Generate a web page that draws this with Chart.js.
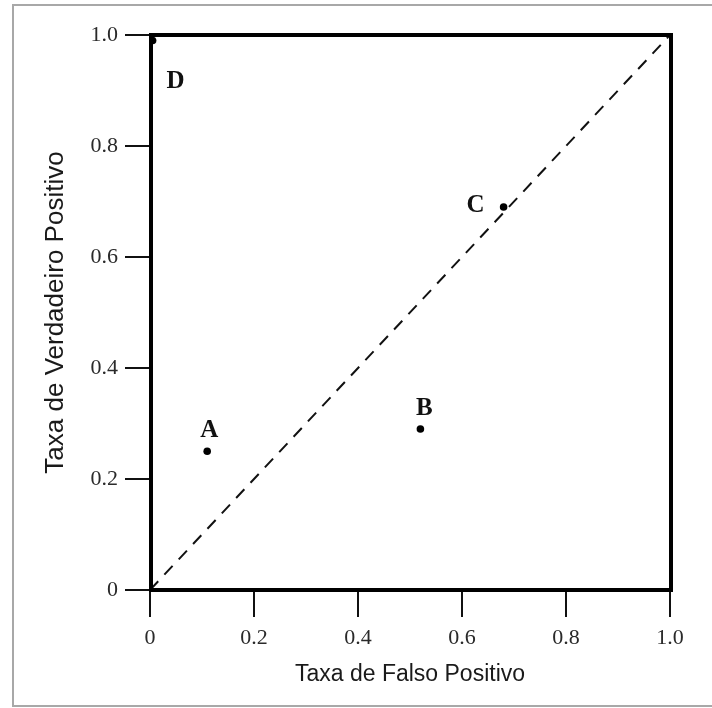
<!DOCTYPE html>
<html>
<head>
<meta charset="utf-8">
<script src="https://cdn.jsdelivr.net/npm/chart.js@4/dist/chart.umd.min.js"></script>
<style>
  html, body { margin: 0; padding: 0; background: #ffffff; }
  canvas { display: block; }
</style>
</head>
<body>
<canvas id="c" width="712" height="708"></canvas>
<script>
// ---- data ----
const pointNames = ['A', 'B', 'C', 'D'];
const fprValues = [0.11, 0.52, 0.68, 0.005];
const tprValues = [0.25, 0.29, 0.69, 0.99];
const diagonalX = [0, 1];
const diagonalY = [0, 1];
const xTickLabels = ['0', '0.2', '0.4', '0.6', '0.8', '1.0'];
const yTickLabels = ['0', '0.2', '0.4', '0.6', '0.8', '1.0'];
const xTitle = 'Taxa de Falso Positivo';
const yTitle = 'Taxa de Verdadeiro Positivo';

// label offsets (pixels, relative to each point) - styling only
const labelOffsets = { A: [2, -21], B: [4, -21], C: [-28, -2], D: [23, 41] };

const framePlugin = {
  id: 'frame',
  beforeDraw(chart) {
    const ctx = chart.ctx;
    ctx.save();
    ctx.fillStyle = '#ffffff';
    ctx.fillRect(0, 0, chart.width, chart.height);
    ctx.strokeStyle = '#a8a8a8';
    ctx.lineWidth = 2;
    ctx.strokeRect(13, 5, chart.width + 20, chart.height - 7);
    ctx.restore();
  }
};

const boxPlugin = {
  id: 'box',
  afterDatasetsDraw(chart) {
    const { ctx, chartArea: a } = chart;
    ctx.save();
    ctx.strokeStyle = '#000000';
    ctx.lineWidth = 4;
    ctx.strokeRect(a.left + 1, a.top, a.right - a.left, a.bottom - a.top);
    ctx.restore();
  }
};

const labelPlugin = {
  id: 'pointLabels',
  afterDatasetsDraw(chart) {
    const ctx = chart.ctx;
    const meta = chart.getDatasetMeta(1);
    ctx.save();
    ctx.font = 'bold 25px "Liberation Serif", "Times New Roman", serif';
    ctx.fillStyle = '#111111';
    ctx.textAlign = 'center';
    ctx.textBaseline = 'middle';
    meta.data.forEach((el, i) => {
      const name = pointNames[i];
      const off = labelOffsets[name];
      ctx.fillText(name, el.x + off[0], el.y + off[1]);
    });
    ctx.restore();
  }
};

const tickFont = { family: '"Liberation Serif", "Times New Roman", serif', size: 22 };

new Chart(document.getElementById('c'), {
  type: 'scatter',
  data: {
    datasets: [
      {
        label: 'diagonal',
        data: diagonalX.map((x, i) => ({ x: x, y: diagonalY[i] })),
        showLine: true,
        borderColor: '#111111',
        borderWidth: 2,
        borderDash: [12, 9],
        pointRadius: 0,
        fill: false
      },
      {
        label: 'pontos',
        data: fprValues.map((x, i) => ({ x: x, y: tprValues[i] })),
        pointRadius: 3.8,
        pointBackgroundColor: '#000000',
        pointBorderColor: '#000000',
        pointBorderWidth: 0
      }
    ]
  },
  options: {
    responsive: false,
    devicePixelRatio: 1,
    animation: false,
    layout: { padding: { left: 0, top: 35, right: 42, bottom: 0 } },
    plugins: {
      legend: { display: false },
      tooltip: { enabled: false }
    },
    scales: {
      x: {
        type: 'linear',
        min: 0, max: 1,
        afterFit(scale) { scale.height = 118; },
        afterBuildTicks(scale) { scale.ticks = xTickLabels.map((t) => ({ value: parseFloat(t) })); },
        ticks: {
          autoSkip: false,
          maxRotation: 0,
          padding: 8,
          color: '#2a2a2a',
          font: tickFont,
          callback: (v, i) => xTickLabels[i]
        },
        grid: { drawOnChartArea: false, drawTicks: true, tickLength: 27, lineWidth: 2, color: '#111111' },
        border: { display: false },
        title: {
          display: true,
          text: xTitle,
          color: '#1a1a1a',
          font: { family: '"Liberation Sans", Arial, sans-serif', size: 23 },
          padding: { top: 0, bottom: 20 }
        }
      },
      y: {
        type: 'linear',
        min: 0, max: 1,
        afterFit(scale) { scale.width = 150; },
        afterBuildTicks(scale) { scale.ticks = yTickLabels.map((t) => ({ value: parseFloat(t) })); },
        ticks: {
          autoSkip: false,
          padding: 7,
          color: '#2a2a2a',
          font: tickFont,
          callback: (v, i) => yTickLabels[i]
        },
        grid: { drawOnChartArea: false, drawTicks: true, tickLength: 25, lineWidth: 2, color: '#111111' },
        border: { display: false },
        title: {
          display: true,
          text: yTitle,
          color: '#1a1a1a',
          font: { family: '"Liberation Sans", Arial, sans-serif', size: 26 },
          padding: { top: 40, bottom: 0 }
        }
      }
    }
  },
  plugins: [framePlugin, boxPlugin, labelPlugin]
});
</script>
</body>
</html>
